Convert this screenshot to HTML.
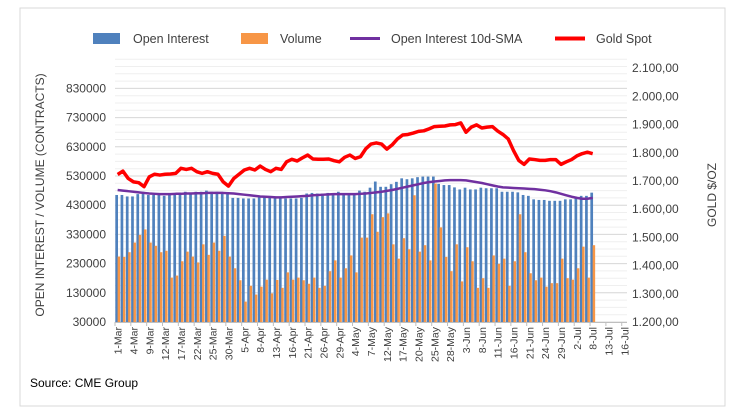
<!DOCTYPE html>
<html><head><meta charset="utf-8"><style>
body{margin:0;background:#fff;font-family:"Liberation Sans",sans-serif;}
svg{display:block}
</style></head><body>
<svg id="c" width="744" height="414" viewBox="0 0 744 414" xmlns="http://www.w3.org/2000/svg">
<rect x="20" y="8" width="705" height="398" fill="#fff" stroke="#d9d9d9"/>
<g id="grid"></g><g id="bars"></g><g id="lines"></g><g id="axes"></g>
<g font-size="12.5" fill="#404040">
<rect x="93" y="33" width="27" height="11" fill="#4f81bd"/>
<text x="133" y="43">Open Interest</text>
<rect x="241" y="33" width="27" height="11" fill="#f79646"/>
<text x="280" y="43">Volume</text>
<line x1="350" y1="38.5" x2="380" y2="38.5" stroke="#7030a0" stroke-width="3"/>
<text x="391" y="43">Open Interest 10d-SMA</text>
<line x1="555" y1="38.5" x2="585" y2="38.5" stroke="#ff0000" stroke-width="4"/>
<text x="596" y="43">Gold Spot</text>
</g>
<text transform="translate(44,195) rotate(-90)" text-anchor="middle" font-size="12" fill="#404040">OPEN INTEREST / VOLUME (CONTRACTS)</text>
<text transform="translate(716,195) rotate(-90)" text-anchor="middle" font-size="12" fill="#404040">GOLD $/OZ</text>
<text x="30" y="387" font-size="12" fill="#000">Source: CME Group</text>
</svg>
<script>
const categories=["1-Mar","2-Mar","3-Mar","4-Mar","5-Mar","8-Mar","9-Mar","10-Mar","11-Mar","12-Mar","15-Mar","16-Mar","17-Mar","18-Mar","19-Mar","22-Mar","23-Mar","24-Mar","25-Mar","26-Mar","29-Mar","30-Mar","31-Mar","1-Apr","5-Apr","6-Apr","7-Apr","8-Apr","9-Apr","12-Apr","13-Apr","14-Apr","15-Apr","16-Apr","19-Apr","20-Apr","21-Apr","22-Apr","23-Apr","26-Apr","27-Apr","28-Apr","29-Apr","30-Apr","3-May","4-May","5-May","6-May","7-May","10-May","11-May","12-May","13-May","14-May","17-May","18-May","19-May","20-May","21-May","24-May","25-May","26-May","27-May","28-May","1-Jun","2-Jun","3-Jun","4-Jun","7-Jun","8-Jun","9-Jun","10-Jun","11-Jun","14-Jun","15-Jun","16-Jun","17-Jun","18-Jun","21-Jun","22-Jun","23-Jun","24-Jun","25-Jun","28-Jun","29-Jun","30-Jun","1-Jul","2-Jul","6-Jul","7-Jul","8-Jul","9-Jul","12-Jul","13-Jul","14-Jul","15-Jul","16-Jul"];
const openInterest=[465,465,460,460,468,476,465,465,465,462,465,470,473,476,473,476,476,480,476,476,473,468,455,455,453,453,453,460,458,458,453,453,453,453,453,455,470,472,470,470,472,470,476,470,470,468,480,476,490,511,493,493,502,510,522,519,522,526,528,528,528,503,499,499,491,484,490,484,484,490,488,488,488,476,476,476,474,465,462,450,448,448,445,445,445,450,450,459,462,462,473];
const volume=[254,253,269,302,328,347,302,291,269,274,182,189,238,271,254,234,296,260,302,274,325,254,214,173,100,154,124,151,175,128,174,147,200,175,182,173,161,182,147,154,204,241,182,214,258,200,319,319,399,339,389,402,296,247,317,279,464,271,293,241,504,354,253,204,296,169,286,238,147,180,147,258,229,247,154,238,399,269,197,173,182,151,163,163,247,180,175,214,288,182,293];
const sma=[482,480,478,476,474,472,470,469,468,468,468,469,469,470,470,471,471,472,472,472,472,471,470,468,466,464,462,460,459,458,457,457,458,459,460,461,462,464,465,466,467,468,468,468,468,468,469,470,472,474,476,479,482,486,490,494,498,502,506,509,511,513,515,516,516,516,515,512,509,506,502,498,494,491,490,489,488,487,486,485,483,481,478,474,469,464,459,455,452,452,455];
const gold=[1723,1735,1709,1697,1694,1680,1715,1724,1721,1724,1725,1727,1745,1741,1745,1733,1727,1733,1727,1724,1697,1682,1709,1724,1739,1745,1739,1753,1741,1733,1745,1741,1768,1777,1771,1782,1792,1778,1777,1777,1778,1772,1768,1784,1792,1780,1786,1814,1831,1835,1831,1813,1828,1849,1863,1865,1870,1876,1878,1885,1893,1894,1895,1899,1900,1906,1873,1891,1899,1888,1891,1893,1877,1865,1849,1808,1773,1759,1778,1776,1773,1773,1776,1776,1759,1768,1776,1789,1797,1802,1797];
const leftTicks=[30000,130000,230000,330000,430000,530000,630000,730000,830000];
const rightTicks=["1.200,00","1.300,00","1.400,00","1.500,00","1.600,00","1.700,00","1.800,00","1.900,00","2.000,00","2.100,00"];
const rightTickVals=[1200,1300,1400,1500,1600,1700,1800,1900,2000,2100];

const NS="http://www.w3.org/2000/svg";
const X0=115,X1=627,YB=322;
const slot=(X1-X0)/categories.length;
const xc=i=>X0+slot*(i+0.5);
const yL=v=>YB-(v-30000)*(29.2/100000);
const yR=v=>YB-(v-1200)*(28.2/100);
function mk(tag,attrs,parent){const e=document.createElementNS(NS,tag);for(const k in attrs)e.setAttribute(k,attrs[k]);parent.appendChild(e);return e;}
const grid=document.getElementById('grid'),bars=document.getElementById('bars'),lines=document.getElementById('lines'),axes=document.getElementById('axes');
for(let v=30000;v<=930000;v+=25000){const l=mk('line',{x1:X0,x2:X1,y1:yL(v),y2:yL(v),stroke:'#efefef','stroke-width':1},grid);

}
leftTicks.forEach(v=>{const y=yL(v);
const l=mk('line',{x1:X0,x2:X1,y1:y,y2:y,stroke:'#d9d9d9','stroke-width':1},grid);


const t=mk('text',{x:106,y:y+4,'text-anchor':'end','font-size':12,fill:'#404040'},axes);t.textContent=v;

});
rightTicks.forEach((s,i)=>{const y=yR(rightTickVals[i]);
const t=mk('text',{x:632,y:y+4,'font-size':12,fill:'#404040'},axes);t.textContent=s;

});
openInterest.forEach((v,i)=>{const x=X0+slot*i;
const r=mk('rect',{x:x+0.3,y:yL(v*1000),width:2.7,height:YB-yL(v*1000),fill:'#4f81bd'},bars);

});
volume.forEach((v,i)=>{const x=X0+slot*i;
const r=mk('rect',{x:x+2.6,y:yL(v*1000),width:2.5,height:YB-yL(v*1000),fill:'#f79646'},bars);

});
const smaP=mk('polyline',{points:sma.map((v,i)=>xc(i)+','+yL(v*1000)).join(' '),fill:'none',stroke:'#7030a0','stroke-width':2.5,'stroke-linejoin':'round'},lines);


const gP=mk('polyline',{points:gold.map((v,i)=>xc(i)+','+yR(v)).join(' '),fill:'none',stroke:'#ff0000','stroke-width':3.5,'stroke-linejoin':'round'},lines);


const ax=mk('line',{x1:X0,x2:X1,y1:YB+0.5,y2:YB+0.5,stroke:'#bfbfbf'},axes);


categories.forEach((c,i)=>{if(i%3)return;const x=xc(i);
const tk=mk('line',{x1:X0+slot*i,x2:X0+slot*i,y1:YB,y2:YB+4,stroke:'#bfbfbf'},axes);


const t=mk('text',{transform:`translate(${x+4},${YB+5}) rotate(-90)`,'text-anchor':'end','font-size':10.5,fill:'#404040'},axes);t.textContent=c;

});
</script>
</body></html>
